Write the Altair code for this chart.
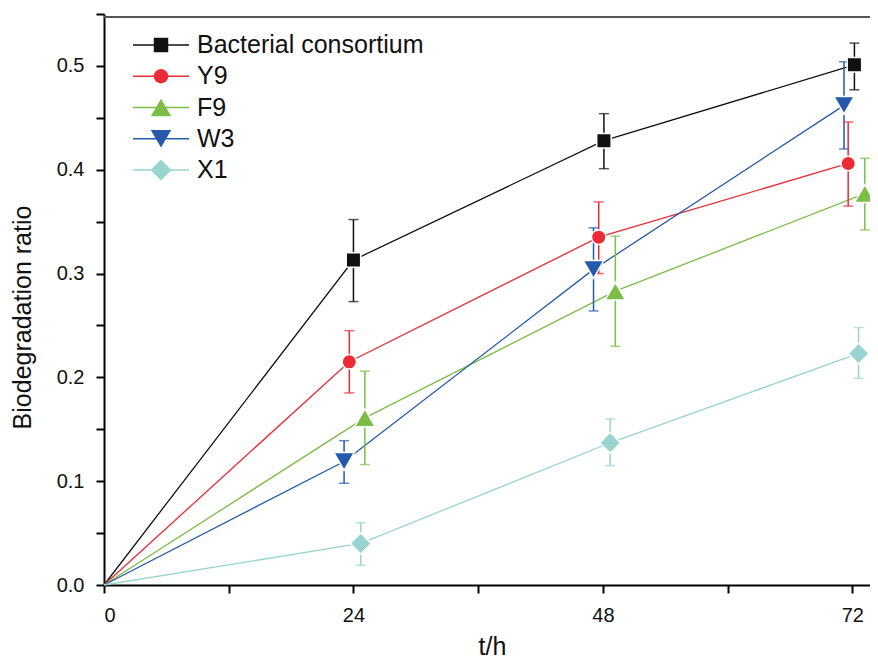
import altair as alt
import pandas as pd

# ---------------- data ----------------
series = ["Bacterial consortium", "Y9", "F9", "W3", "X1"]

# plotted x positions (Origin offsets the markers slightly around 24/48/72 h)
x_bc = [0, 24.0, 48.1, 72.2]
x_y9 = [0, 23.6, 47.6, 71.6]
x_f9 = [0, 25.1, 49.2, 73.2]
x_w3 = [0, 23.1, 47.1, 71.2]
x_x1 = [0, 24.7, 48.7, 72.6]

y_bc = [0, 0.313, 0.428, 0.501]
y_y9 = [0, 0.215, 0.335, 0.406]
y_f9 = [0, 0.161, 0.283, 0.377]
y_w3 = [0, 0.119, 0.304, 0.462]
y_x1 = [0, 0.040, 0.137, 0.223]

lo_bc = [0, 0.273, 0.401, 0.477]
hi_bc = [0, 0.352, 0.454, 0.522]
lo_y9 = [0, 0.185, 0.300, 0.365]
hi_y9 = [0, 0.245, 0.369, 0.446]
lo_f9 = [0, 0.116, 0.230, 0.342]
hi_f9 = [0, 0.206, 0.336, 0.411]
lo_w3 = [0, 0.098, 0.264, 0.420]
hi_w3 = [0, 0.139, 0.344, 0.504]
lo_x1 = [0, 0.019, 0.115, 0.199]
hi_x1 = [0, 0.060, 0.160, 0.248]

x_ticks = [0, 12, 24, 36, 48, 60, 72]
y_ticks = [0, 0.05, 0.1, 0.15, 0.2, 0.25, 0.3, 0.35, 0.4, 0.45, 0.5, 0.55]

colors = ["#111111", "#ec2b36", "#7cbd45", "#2459ab", "#98d5d1"]
shapes = ["square", "circle", "triangle-up", "triangle-down", "diamond"]
sizes = [210, 210, 420, 420, 440]

# ---------------- build table ----------------
xs = [x_bc, x_y9, x_f9, x_w3, x_x1]
ys = [y_bc, y_y9, y_f9, y_w3, y_x1]
los = [lo_bc, lo_y9, lo_f9, lo_w3, lo_x1]
his = [hi_bc, hi_y9, hi_f9, hi_w3, hi_x1]
rows = []
for i, s in enumerate(series):
    for j in range(len(xs[i])):
        rows.append({"series": s, "msize": sizes[i], "t": xs[i][j], "y": ys[i][j],
                     "lo": los[i][j], "hi": his[i][j]})
df = pd.DataFrame(rows)
leg = pd.DataFrame({"series": series, "row": list(range(len(series))), "msize": sizes})

W, H = 766, 571
XMAX = 73.7
FONT = "Liberation Sans"

color_scale = alt.Scale(domain=series, range=colors)
shape_scale = alt.Scale(domain=series, range=shapes)

x_axis = alt.Axis(values=x_ticks, labelExpr="datum.value % 24 == 0 ? datum.label : ''",
                  grid=False, tickSize=8, labelPadding=12, titlePadding=9, titleX=388)
y_axis = alt.Axis(values=y_ticks, format=".1f",
                  labelExpr="round(datum.value*100) % 10 == 0 ? format(datum.value, '.1f') : ''",
                  grid=False, tickSize=8, labelPadding=12, titlePadding=21, titleY=303)

xs_scale = alt.Scale(domain=[0, XMAX], nice=False, zero=False)
ys_scale = alt.Scale(domain=[0, 0.55], nice=False)


def X(field):
    return alt.X(f"{field}:Q", scale=xs_scale, axis=x_axis, title="t/h")


def Y(field):
    return alt.Y(f"{field}:Q", scale=ys_scale, axis=y_axis, title="Biodegradation ratio")


col = alt.Color("series:N", scale=color_scale, legend=None)
shp = alt.Shape("series:N", scale=shape_scale, legend=None)
siz = alt.Size("msize:Q", scale=None, legend=None)
base = alt.Chart(df)
pts = base.transform_filter("datum.t > 0")

lines = base.mark_line(strokeWidth=1.3).encode(
    x=X("t"), y=Y("y"), color=col, detail="series:N"
)
bars = pts.mark_rule(strokeWidth=1.5).encode(x=X("t"), y=Y("lo"), y2="hi:Q", color=col)
cap_lo = pts.mark_tick(orient="horizontal", size=10, thickness=1.5).encode(x=X("t"), y=Y("lo"), color=col)
cap_hi = pts.mark_tick(orient="horizontal", size=10, thickness=1.5).encode(x=X("t"), y=Y("hi"), color=col)
markers = pts.mark_point(filled=True, opacity=1, stroke="white", strokeWidth=1.5).encode(
    x=X("t"), y=Y("y"), color=col, shape=shp, size=siz,
)
top_line = alt.Chart(pd.DataFrame({"a": [0]})).mark_rule(color="#555555", strokeWidth=2).encode(
    x=alt.value(0), x2=alt.value(W), y=alt.value(3)
)

main = alt.layer(lines, bars, cap_lo, cap_hi, markers, top_line)

# ---------------- legend (drawn as marks) ----------------
LY = alt.Y("row:Q", scale=alt.Scale(domain=[0, 4], range=[31, 156]), axis=None)
lbase = alt.Chart(leg)
leg_line = lbase.mark_rule(strokeWidth=1.3).encode(
    x=alt.value(29), x2=alt.value(85), y=LY, color=col
)
leg_pt = lbase.mark_point(filled=True, opacity=1).encode(
    x=alt.value(57), y=LY, color=col, shape=shp, size=siz,
)
leg_txt = lbase.mark_text(align="left", baseline="middle", font=FONT, fontSize=25, color="#111111").encode(
    x=alt.value(93), y=LY, text="series:N"
)
legend = alt.layer(leg_line, leg_pt, leg_txt)

chart = alt.layer(main, legend).resolve_scale(y="independent").properties(
    width=W, height=H,
    padding={"left": 96, "top": 6, "right": 0, "bottom": 74},
    autosize=alt.AutoSizeParams(type="none"),
).configure_view(stroke=None).configure_axis(
    domainColor="#000000", domainWidth=2, tickColor="#000000", tickWidth=2,
    labelFont=FONT, labelFontSize=20, labelColor="#111111",
    titleFont=FONT, titleFontSize=25, titleFontWeight="normal", titleColor="#111111",
)

chart.save("out.html", embed_options={"renderer": "svg", "actions": False})
